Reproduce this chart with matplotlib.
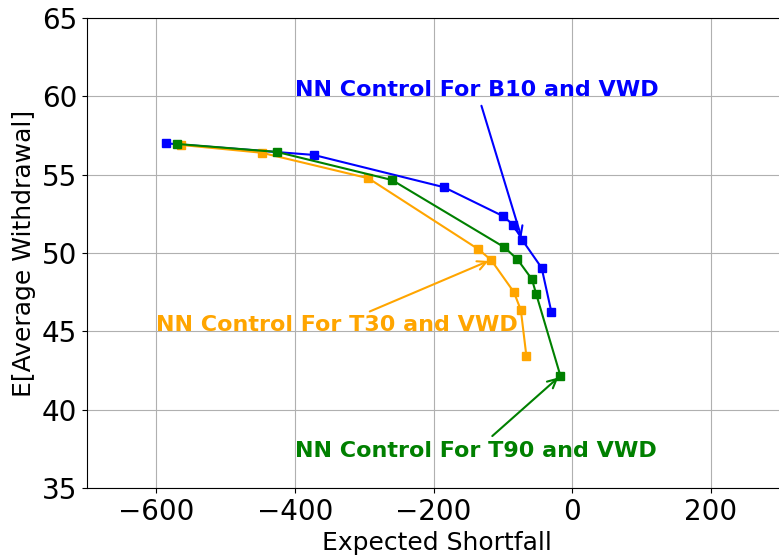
import matplotlib
matplotlib.use("Agg")
import matplotlib.pyplot as plt

# efficient frontiers: expected shortfall vs expected average withdrawal
es_b10 = [-586, -373, -185, -100, -85, -72, -44, -30]
ew_b10 = [57.0, 56.26, 54.2, 52.36, 51.8, 50.83, 49.05, 46.24]

es_t30 = [-565, -448, -294, -136, -117, -84, -74, -66]
ew_t30 = [56.9, 56.4, 54.77, 50.26, 49.56, 47.5, 46.35, 43.41]

es_t90 = [-570, -426, -260, -98, -79, -58, -52, -17]
ew_t90 = [56.96, 56.45, 54.66, 50.37, 49.6, 48.32, 47.4, 42.17]

labels = ["NN Control For B10 and VWD",
          "NN Control For T30 and VWD",
          "NN Control For T90 and VWD"]

fig = plt.figure(figsize=(7.79, 5.59), dpi=100)
ax = fig.add_axes([87/779, 71/559, 700/779, 470/559])

ax.plot(es_b10, ew_b10, color="blue", marker="s", markersize=6, lw=1.5)
ax.plot(es_t30, ew_t30, color="orange", marker="s", markersize=6, lw=1.5)
ax.plot(es_t90, ew_t90, color="green", marker="s", markersize=6, lw=1.5)

ax.annotate(labels[0], xy=(es_b10[5], ew_b10[5]), xytext=(-400, 60),
            color="blue", fontsize=16, fontweight="bold",
            arrowprops=dict(arrowstyle="->", color="blue", lw=1.5))
ax.annotate(labels[1], xy=(es_t30[4], ew_t30[4]), xytext=(-600, 45),
            color="orange", fontsize=16, fontweight="bold",
            arrowprops=dict(arrowstyle="->", color="orange", lw=1.5))
ax.annotate(labels[2], xy=(es_t90[7], ew_t90[7]), xytext=(-400, 37),
            color="green", fontsize=16, fontweight="bold",
            arrowprops=dict(arrowstyle="->", color="green", lw=1.5))

ax.set_xlim(-700, 310)
ax.set_ylim(35, 65)
ax.set_xticks([-600, -400, -200, 0, 200])
ax.tick_params(labelsize=20)
ax.grid(True, color="#b0b0b0", lw=0.8)
ax.set_xlabel("Expected Shortfall", fontsize=18)
ax.set_ylabel("E[Average Withdrawal]", fontsize=18)

fig.savefig("out.png", dpi=100)
